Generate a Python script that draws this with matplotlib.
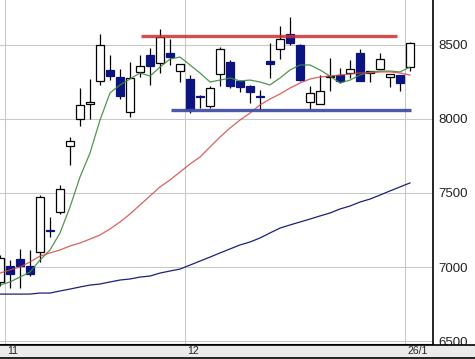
import matplotlib
matplotlib.use("Agg")
import matplotlib.pyplot as plt
import matplotlib.transforms as mtransforms

##Daily candles
opens = [6899, 7007, 7054, 7007, 7101, 7248, 7372, 7817, 8000, 8101,
         8257, 8331, 8284, 8047, 8317, 8432, 8378, 8446, 8324, 8270,
         8152, 8088, 8304, 8385, 8257, 8223, 8152, 8392, 8473, 8574,
         8500, 8115, 8101, 8287, 8297, 8311, 8446, 8311, 8338, 8284,
         8297, 8351]
closes = [7061, 6953, 7007, 6953, 7473, 7243, 7527, 7851, 8094, 8115,
          8500, 8290, 8155, 8277, 8358, 8358, 8554, 8419, 8372, 8061,
          8148, 8209, 8473, 8223, 8216, 8182, 8147, 8372, 8540, 8513,
          8263, 8176, 8189, 8292, 8257, 8338, 8257, 8324, 8405, 8304,
          8243, 8513]
highs = [7081, 7047, 7122, 7115, 7486, 7338, 7554, 7878, 8209, 8270,
         8574, 8432, 8338, 8385, 8432, 8480, 8608, 8540, 8372, 8297,
         8162, 8223, 8486, 8399, 8263, 8230, 8196, 8513, 8628, 8689,
         8505, 8223, 8297, 8412, 8345, 8399, 8473, 8326, 8446, 8306,
         8299, 8520]
lows = [6871, 6858, 6858, 6939, 7034, 7203, 7358, 7689, 7953, 8000,
        8230, 8263, 8135, 8013, 8284, 8230, 8311, 8365, 8250, 8040,
        8074, 8074, 8223, 8209, 8182, 8108, 8061, 8277, 8405, 8500,
        8260, 8068, 8098, 8189, 8243, 8277, 8255, 8250, 8336, 8216,
        8189, 8324]

##Moving averages (short / mid / long)
maShort = [6878, 6899, 6932, 6966, 7047, 7115, 7230, 7405, 7608, 7770,
           7993, 8176, 8230, 8270, 8311, 8290, 8351, 8405, 8419, 8365,
           8311, 8250, 8263, 8277, 8257, 8263, 8250, 8230, 8277, 8331,
           8365, 8365, 8331, 8290, 8243, 8263, 8297, 8318, 8324, 8324,
           8318, 8351]
maMid = [6959, 6980, 7000, 7034, 7074, 7095, 7115, 7142, 7162, 7189,
         7216, 7257, 7304, 7358, 7419, 7480, 7541, 7588, 7642, 7696,
         7743, 7811, 7878, 7939, 7993, 8040, 8095, 8135, 8169, 8209,
         8243, 8270, 8284, 8290, 8297, 8304, 8311, 8311, 8318, 8318,
         8311, 8297]
maLong = [6817, 6817, 6817, 6817, 6824, 6824, 6838, 6851, 6865, 6878,
          6885, 6899, 6912, 6919, 6932, 6939, 6959, 6973, 6986, 7013,
          7040, 7067, 7095, 7122, 7149, 7169, 7196, 7230, 7263, 7284,
          7304, 7324, 7345, 7365, 7392, 7412, 7439, 7459, 7486, 7514,
          7541, 7568]

##Hand drawn levels: start index, end index, price
resistance = [14.1, 39.7, 8560]
support = [17.1, 41.1, 8060]

##Month markers
monthStarts = [1, 19, 41]
monthLabels = ["11", "12", "26/1"]
yTicks = [6500, 7000, 7500, 8000, 8500]

NAVY = "#0b1480"

fig = plt.figure(figsize=(4.75, 3.59), dpi=100)
ax = fig.add_axes([0, 14 / 359, 433 / 475, 345 / 359])
band = fig.add_axes([0, 1 / 359, 1, 13 / 359])

##Grid
ax.set_xlim(0, 43.3)
ax.set_ylim(6473, 8804)
ax.set_xticks([m - 0.5 for m in monthStarts])
ax.set_xticklabels([])
ax.set_yticks(yTicks)
ax.yaxis.tick_right()
ax.tick_params(length=0, pad=4, labelsize=9.5)
for lab in ax.get_yticklabels():
    lab.set_family("Liberation Sans")
    lab.set_color("#222222")
ax.grid(color="#c8c8c8", linewidth=0.75)
ax.set_axisbelow(True)
for side in ["top", "left"]:
    ax.spines[side].set_visible(False)
ax.spines["right"].set_linewidth(1.2)
ax.spines["bottom"].set_linewidth(1.5)

##Candles
x = list(range(len(opens)))
ax.vlines(x, lows, highs, color="black", linewidth=0.9, zorder=2)
bottoms = [min(o, c) for o, c in zip(opens, closes)]
heights = [max(abs(c - o), 2) for o, c in zip(opens, closes)]
colors = ["white" if c >= o else NAVY for o, c in zip(opens, closes)]
edges = ["black" if c >= o else NAVY for o, c in zip(opens, closes)]
ax.bar(x, heights, bottom=bottoms, width=0.8, color=colors,
       edgecolor=edges, linewidth=0.9, zorder=3)

##Moving averages
ax.plot(x, maShort, color="#3f8a3f", linewidth=0.9, alpha=0.9, zorder=4)
ax.plot(x, maMid, color="#d64545", linewidth=0.9, alpha=0.85, zorder=4)
ax.plot(x, maLong, color="#1d1f7c", linewidth=0.9, zorder=4)

##Support / resistance
ax.hlines(resistance[2], resistance[0], resistance[1], color="#cc2f2f",
          linewidth=2.4, alpha=0.85, zorder=5)
ax.hlines(support[2], support[0], support[1], color="#4350a6",
          linewidth=2.4, alpha=0.95, zorder=5)

##Date band
band.set_facecolor("#ebebeb")
band.set_xticks([])
band.set_yticks([])
for side in ["left", "right"]:
    band.spines[side].set_visible(False)
band.spines["top"].set_linewidth(1.2)
band.spines["bottom"].set_linewidth(1.2)

trans = mtransforms.blended_transform_factory(ax.transData, fig.transFigure)
for m, lab in zip(monthStarts, monthLabels):
    fig.text(m - 0.3, 7.5 / 359, lab, transform=trans, fontsize=7.5,
             family="Liberation Sans", va="center", ha="left", color="#222222")

fig.savefig("out.png", dpi=100)
